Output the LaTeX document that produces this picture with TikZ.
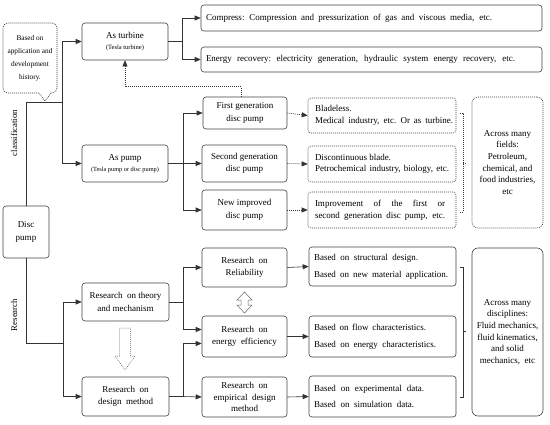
\documentclass[tikz,border=0pt]{standalone}
\usepackage{fontspec}
\setmainfont{Liberation Serif}
\usetikzlibrary{arrows.meta,calc}
\newcommand\fw[2]{\hbox to #1pt{\spaceskip=0.25em plus 1fil\relax\xspaceskip=0.3em plus 1fil\relax #2}}
\begin{document}
\begin{tikzpicture}[x=1pt,y=-1pt,
  box/.style={draw=black!75, rounded corners=3pt, line width=0.6pt, align=center, inner sep=1pt, font=\fontsize{9}{12.5}\selectfont},
  dots/.style={dash pattern=on 1pt off 1pt},
  dbox/.style={box, dots},
  lbox/.style={box, align=left, inner xsep=5pt},
  conn/.style={draw=black!80, line width=0.6pt},
  arr/.style={conn, -{Triangle[length=6pt,width=5pt]}},
  vlab/.style={rotate=90, font=\fontsize{8.8}{10}\selectfont}
]
\useasboundingbox (0,0) rectangle (550,424);

% left
\node[box, minimum width=46pt, minimum height=52pt] (disc) at (26,232) {Disc\\pump};
\node[align=center, font=\fontsize{7.3}{13}\selectfont] (hist) at (30,58) {Based on\\application and\\development\\history.};
\draw[conn, dots, rounded corners=5pt] (39,93) -- (3,93) -- (3,23) -- (57,23) -- (57,93) -- (51,93);
\draw[conn, dots] (51,93) -- (45,101) -- (39,93);
\node[vlab] (cls) at (14,133) {classification};
\node[vlab] (res) at (14,315) {Research};

% classification branch
\node[box, minimum width=86pt, minimum height=37pt] (turb) at (125,41.5) {As turbine\\[-1.5pt]{\fontsize{6.5}{8}\selectfont(Tesla turbine)}};
\node[box, minimum width=86pt, minimum height=37pt] (pump) at (125,163.5) {As pump\\[-1.5pt]{\fontsize{6.3}{8}\selectfont(Tesla pump or disc pump)}};

\node[lbox, text width=331pt, minimum height=26pt] (comp) at (371.5,18) {\fw{286}{Compress: Compression and pressurization of gas and viscous media, etc.}};
\node[lbox, text width=331pt, minimum height=25pt] (erec) at (371.5,59.5) {\fw{309}{Energy recovery: electricity generation, hydraulic system energy recovery, etc.}};

\node[box, minimum width=84pt, minimum height=32pt] (gen1) at (245,113) {First generation\\disc pump};
\node[box, minimum width=85pt, minimum height=37pt] (gen2) at (244.5,163.5) {Second generation\\disc pump};
\node[box, minimum width=85pt, minimum height=40pt] (gen3) at (244.5,210) {New improved\\disc pump};

\node[dbox, align=left, inner xsep=7pt, text width=134pt, minimum height=35pt, font=\fontsize{9}{12}\selectfont] (bl) at (382,115.5) {Bladeless.\\\fw{138}{Medical industry, etc. Or as turbine.}};
\node[dbox, align=left, inner xsep=7pt, text width=134pt, minimum height=36pt, font=\fontsize{9}{11}\selectfont] (dc) at (382,164) {\fw{70}{Discontinuous blade.}\\\fw{134}{Petrochemical industry, biology, etc.}};
\node[dbox, align=left, inner xsep=7pt, text width=134pt, minimum height=36pt, font=\fontsize{9}{12}\selectfont] (im) at (382,210) {\fw{130}{Improvement of the first or}\\\fw{130}{second generation disc pump, etc.}};
\node[dbox, rounded corners=6pt, minimum width=71pt, minimum height=131pt, font=\fontsize{9}{11.7}\selectfont] (fld) at (507.5,162.5) {Across many\\fields:\\Petroleum,\\chemical,\ and\\food industries,\\etc};

% research branch
\node[box, minimum width=87pt, minimum height=38pt] (theo) at (125.5,302) {Research\ \ on theory\\and mechanism};
\node[box, minimum width=87pt, minimum height=39pt] (desm) at (125.5,396.5) {Research\ \ on\\design\ \ method};

\node[box, minimum width=85pt, minimum height=39pt] (rel) at (244.5,267.5) {Research\ \ on\\Reliability};
\node[box, minimum width=85pt, minimum height=41pt] (eff) at (244.5,336.5) {Research\ \ on\\energy\ \ efficiency};
\node[box, minimum width=85pt, minimum height=40pt, font=\fontsize{9}{11.5}\selectfont] (emp) at (244.5,397) {Research\ \ on\\empirical\ \ design\\method};

\node[lbox, text width=137pt, minimum height=39pt, font=\fontsize{9}{17}\selectfont] (str) at (382.5,266.5) {\fw{104}{Based on structural design.}\\\fw{134}{Based on new material application.}};
\node[lbox, text width=137pt, minimum height=41pt, font=\fontsize{9}{17}\selectfont] (flw) at (382.5,336.5) {\fw{112}{Based on flow characteristics.}\\\fw{122}{Based on energy characteristics.}};
\node[lbox, text width=137pt, minimum height=41pt, font=\fontsize{9}{16}\selectfont] (exd) at (382.5,396.5) {\fw{110}{Based on experimental data.}\\\fw{100}{Based on simulation data.}};
\node[box, rounded corners=6pt, minimum width=71pt, minimum height=168pt, font=\fontsize{9}{11.6}\selectfont] (dsc) at (507.5,332) {Across many\\disciplines:\\Fluid mechanics,\\fluid kinematics,\\and solid\\mechanics,\ \ etc};

% junction coordinates
\coordinate (jc) at (62,102);
\coordinate (jr) at (63,343);
\coordinate (jt) at (182,41.5);
\coordinate (jp) at (183,163.5);
\coordinate (jth) at (183,302);
\coordinate (jd) at (183,396.5);
\coordinate (ea) at ($(eff.west)+(0,-7)$);
\coordinate (eb) at ($(eff.west)+(0,7)$);

% connectors
\draw[conn] (disc.north) |- (jc);
\draw[arr] (jc) |- (turb.west);
\draw[arr] (jc) |- (pump.west);
\draw[conn] (disc.south) |- (jr);
\draw[arr] (jr) |- (theo.west);
\draw[arr] (jr) |- (desm.west);

\draw[conn] (turb.east) -- (jt);
\draw[arr] (jt) |- (comp.west);
\draw[arr] (jt) |- (erec.west);

\draw[conn] (pump.east) -- (jp);
\draw[arr] (jp) |- (gen1.west);
\draw[arr] (jp) -- (gen2.west);
\draw[arr] (jp) |- (gen3.west);

\draw[arr, dots] (gen1.east) -- (bl.west);
\draw[arr, dots] (gen2.east) -- (dc.west);
\draw[arr, dots] (gen3.east) -- (im.west);
\draw[arr, dots] ([xshift=-4pt]gen1.north) -- ++(0,-10) -| (turb.south);

\draw[conn] (theo.east) -- (jth);
\draw[arr] (jth) |- (rel.west);
\draw[arr] (jth) |- (ea);
\draw[conn] (desm.east) -- (jd);
\draw[arr] (jd) |- (eb);
\draw[arr] (jd) -- (emp.west);

\draw[arr] (rel.east) -- (str.west);
\draw[arr] (eff.east) -- (flw.west);
\draw[arr] (emp.east) -- (exd.west);

% brackets
\draw[conn, dots] (460,113) -- (463,113) -- (463,212) -- (460,212);
\draw[conn, dots] (463,163) -- (466,163);
\draw[conn] (460,267) -- (463,267) -- (463,397) -- (460,397);
\draw[conn] (463,331) -- (466,331);

% hollow arrows
\draw[draw=black!60, line width=0.5pt, dots] (119.5,328) -- (130.5,328) -- (130.5,356) -- (135,356) -- (125,370) -- (115,356) -- (119.5,356) -- cycle;
\draw[draw=black!60, line width=0.5pt] (244.5,292) -- (252,300) -- (248,300) -- (248,305) -- (252,305) -- (244.5,313) -- (237,305) -- (241,305) -- (241,300) -- (237,300) -- cycle;
\end{tikzpicture}
\end{document}
